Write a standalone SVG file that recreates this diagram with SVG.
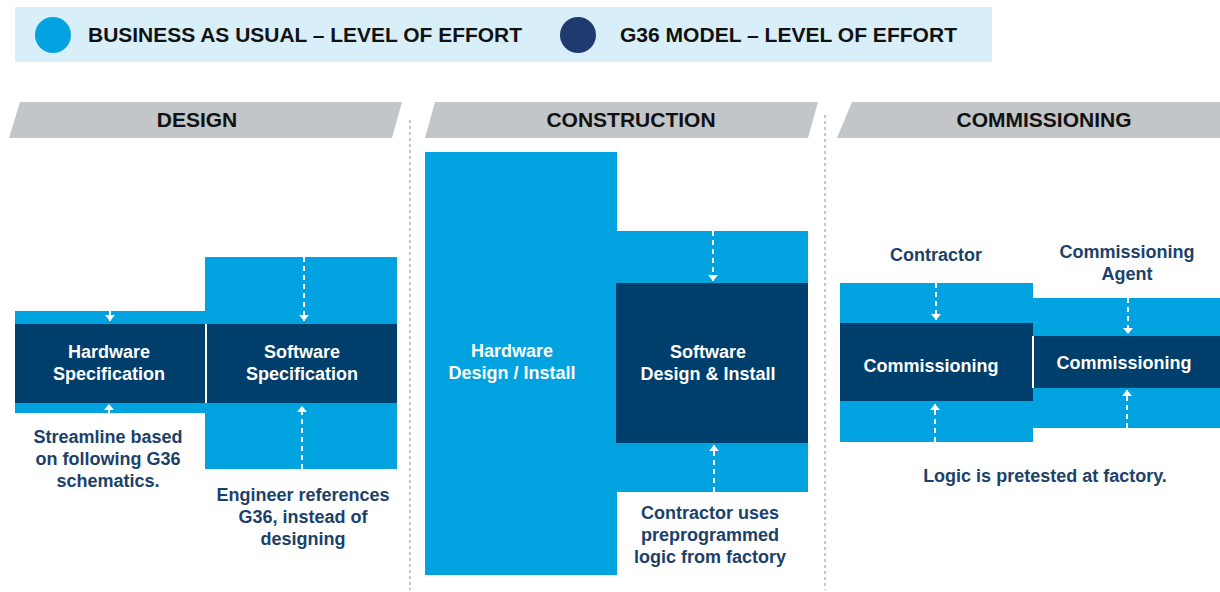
<svg xmlns="http://www.w3.org/2000/svg" width="1220" height="592" viewBox="0 0 1220 592">
<style>
.lb{fill:#00a3e0}
.dk{fill:#003e6b}
.hdr{fill:#c2c6c9}
.ht{font-family:"Liberation Sans",Arial,sans-serif;font-weight:bold;font-size:21px;fill:#111;text-anchor:middle}
.lg{font-family:"Liberation Sans",Arial,sans-serif;font-weight:bold;font-size:20px;fill:#111}
.wt{font-family:"Liberation Sans",Arial,sans-serif;font-weight:bold;font-size:18px;fill:#fff;text-anchor:middle}
.bt{font-family:"Liberation Sans",Arial,sans-serif;font-weight:bold;font-size:18px;fill:#1b416b;text-anchor:middle}
.sep{stroke:#b5b5b5;stroke-width:1.5;stroke-dasharray:3,3;fill:none}
.ar{stroke:#fff;stroke-width:2;stroke-dasharray:5,4;fill:none;marker-end:url(#ah)}
.dv{stroke:#fff;stroke-width:2}
</style>
<defs>
<marker id="ah" viewBox="0 0 6 10" refX="6" refY="5" markerWidth="6" markerHeight="10" orient="auto" markerUnits="userSpaceOnUse">
<path d="M0,0 L6,5 L0,10 z" fill="#fff"/>
</marker>
</defs>
<rect width="1220" height="592" fill="#fff"/>

<g id="legend">
<rect x="15" y="7" width="977" height="55" fill="#d8eff9"/>
<circle cx="53" cy="35" r="18" fill="#00a3e0"/>
<text class="lg" x="88" y="42" textLength="434" lengthAdjust="spacingAndGlyphs">BUSINESS AS USUAL – LEVEL OF EFFORT</text>
<circle cx="578" cy="35" r="18" fill="#1e3a6e"/>
<text class="lg" x="620" y="42" textLength="337" lengthAdjust="spacingAndGlyphs">G36 MODEL – LEVEL OF EFFORT</text>
</g>

<g id="separators">
<line class="sep" x1="410" y1="120" x2="410" y2="590"/>
<line class="sep" x1="825" y1="115" x2="825" y2="590"/>
</g>

<g id="header-design">
<polygon class="hdr" points="20,102 402,102 392,138 9,138"/>
<text class="ht" x="197" y="127">DESIGN</text>
</g>
<g id="header-construction">
<polygon class="hdr" points="435,102 818,102 808,138 425,138"/>
<text class="ht" x="631" y="127">CONSTRUCTION</text>
</g>
<g id="header-commissioning">
<polygon class="hdr" points="852,102 1220,102 1220,138 837,138"/>
<text class="ht" x="1044" y="127">COMMISSIONING</text>
</g>

<g id="design-hardware">
<rect class="lb" x="15" y="311" width="191" height="102"/>
<rect class="dk" x="15" y="324" width="191" height="79"/>
<text class="wt" x="109" y="358">Hardware</text>
<text class="wt" x="109" y="380">Specification</text>
</g>
<g id="design-software">
<rect class="lb" x="205" y="257" width="192" height="212"/>
<rect class="dk" x="205" y="324" width="192" height="79"/>
<text class="wt" x="302" y="358">Software</text>
<text class="wt" x="302" y="380">Specification</text>
</g>
<line class="dv" x1="206" y1="324" x2="206" y2="403"/>
<g id="design-notes">
<text class="bt" x="108" y="443">Streamline based</text>
<text class="bt" x="108" y="465">on following G36</text>
<text class="bt" x="108" y="487">schematics.</text>
<text class="bt" x="303" y="501">Engineer references</text>
<text class="bt" x="303" y="523">G36, instead of</text>
<text class="bt" x="303" y="545">designing</text>
</g>

<g id="construction-hardware">
<rect class="lb" x="425" y="152" width="192" height="423"/>
<text class="wt" x="512" y="357">Hardware</text>
<text class="wt" x="512" y="379">Design / Install</text>
</g>
<g id="construction-software">
<rect class="lb" x="616" y="231" width="192" height="261"/>
<rect class="dk" x="616" y="283" width="192" height="160"/>
<text class="wt" x="708" y="358">Software</text>
<text class="wt" x="708" y="380">Design &amp; Install</text>
</g>
<g id="construction-notes">
<text class="bt" x="710" y="519">Contractor uses</text>
<text class="bt" x="710" y="541">preprogrammed</text>
<text class="bt" x="710" y="563">logic from factory</text>
</g>

<g id="commissioning-contractor">
<rect class="lb" x="840" y="283" width="193" height="159"/>
<rect class="dk" x="840" y="323" width="193" height="78"/>
<text class="wt" x="931" y="372">Commissioning</text>
</g>
<g id="commissioning-agent">
<rect class="lb" x="1033" y="298" width="187" height="130"/>
<rect class="dk" x="1033" y="336" width="187" height="52"/>
<text class="wt" x="1124" y="369">Commissioning</text>
</g>
<line class="dv" x1="1033" y1="336" x2="1033" y2="388"/>
<g id="commissioning-notes">
<text class="bt" x="936" y="261">Contractor</text>
<text class="bt" x="1127" y="258">Commissioning</text>
<text class="bt" x="1127" y="280">Agent</text>
<text class="bt" x="1045" y="482">Logic is pretested at factory.</text>
</g>

<g id="connectors">
<line class="ar" x1="110" y1="311" x2="110" y2="321"/>
<line class="ar" x1="109" y1="413" x2="109" y2="404"/>
<line class="ar" x1="304" y1="257" x2="304" y2="321"/>
<line class="ar" x1="302" y1="469" x2="302" y2="406"/>
<line class="ar" x1="713" y1="231" x2="713" y2="281"/>
<line class="ar" x1="714" y1="492" x2="714" y2="445"/>
<line class="ar" x1="936" y1="283" x2="936" y2="320"/>
<line class="ar" x1="935" y1="442" x2="935" y2="404"/>
<line class="ar" x1="1128" y1="298" x2="1128" y2="334"/>
<line class="ar" x1="1127" y1="428" x2="1127" y2="390"/>
</g>
</svg>
